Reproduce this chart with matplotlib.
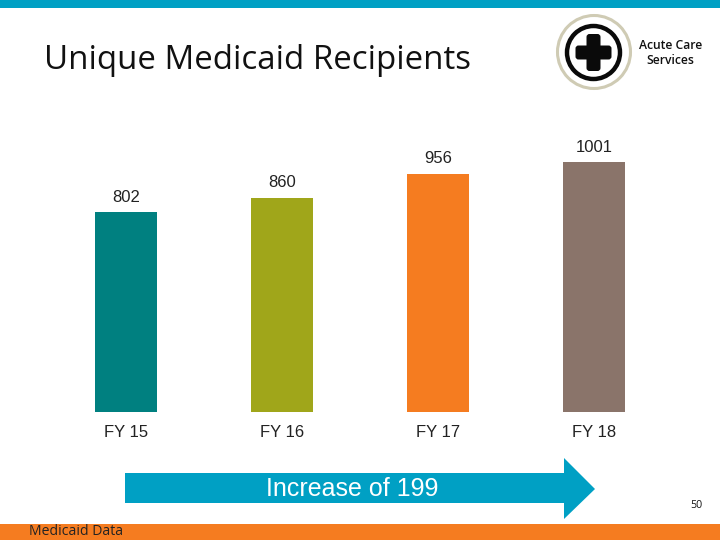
import matplotlib
matplotlib.use("Agg")
import matplotlib.pyplot as plt
from matplotlib.patches import Rectangle, Polygon, Circle, FancyBboxPatch

categories = ["FY 15", "FY 16", "FY 17", "FY 18"]
values = [802, 860, 956, 1001]
bar_colors = ["#008080", "#A0A61A", "#F57C20", "#8A746A"]
title = "Unique Medicaid Recipients"
arrow_text = "Increase of 199"
logo_text = "Acute Care\nServices"
footer_text = "Medicaid Data"
page_number = "50"

W, H = 720, 540
BLUE = "#00A0C4"
ORANGE = "#F57C20"
fig = plt.figure(figsize=(7.2, 5.4), dpi=100, facecolor="white")

# Pixel-coordinate overlay for the slide furniture
bg = fig.add_axes([0, 0, 1, 1])
bg.set_xlim(0, W)
bg.set_ylim(H, 0)
bg.axis("off")
bg.add_patch(Rectangle((0, 0), W, 8, color=BLUE, lw=0))
bg.add_patch(Rectangle((0, 524), W, 16, color=ORANGE, lw=0))
bg.add_patch(Polygon([(125, 473), (564, 473), (564, 458), (595, 489), (564, 519),
                      (564, 503), (125, 503)], closed=True, color=BLUE, lw=0))
bg.text(352.5, 488.5, arrow_text, color="white", fontsize=18, ha="center", va="center",
        family="Liberation Sans")
bg.text(44, 60.5, title, fontsize=23.8, ha="left", va="center", family="Open Sans", color="#111111")
bg.text(29, 531.5, footer_text, fontsize=10.1, ha="left", va="center", family="Open Sans", color="#222222")
bg.text(696.5, 505, page_number, fontsize=7.7, ha="center", va="center", family="Open Sans", color="#111111")
bg.text(670.5, 53, logo_text, fontsize=8.7, ha="center", va="center", family="Open Sans",
        color="#111111", fontweight="semibold", linespacing=1.2)
# Logo
bg.add_patch(Circle((594, 52), 36.5, fill=False, ec="#CFCBB4", lw=2.2))
bg.add_patch(Circle((593.5, 52.5), 26.5, fill=False, ec="#0A0A0A", lw=3.2))
for (x0, y0, w, h) in [(578, 48, 31, 9), (589, 36.5, 9, 32)]:
    bg.add_patch(FancyBboxPatch((x0, y0), w, h, boxstyle="round,pad=2.5,rounding_size=3",
                                fc="#0A0A0A", ec="none"))

# Bar chart: baseline at pixel 412, category spacing 156 px
left, right, top, bottom = 48, 672, 100, 412
ax = fig.add_axes([left / W, 1 - bottom / H, (right - left) / W, (bottom - top) / H])
ax.patch.set_alpha(0)
xs = range(len(values))
ax.bar(xs, values, width=62 / 156, color=bar_colors, linewidth=0)
ax.set_xlim(-0.5, 3.5)
ax.set_ylim(0, 312 / (200 / 802))
ax.set_yticks([])
ax.set_xticks(list(xs))
ax.set_xticklabels(categories, fontsize=12, family="Liberation Sans", color="#222222")
ax.tick_params(axis="x", length=0, pad=9.5)
for s in ax.spines.values():
    s.set_visible(False)
for x, v in zip(xs, values):
    ax.annotate(str(v), (x, v), xytext=(0, 15), textcoords="offset pixels", ha="center",
                va="center", fontsize=12, family="Liberation Sans", color="#222222")

fig.savefig("out.png", dpi=100)
